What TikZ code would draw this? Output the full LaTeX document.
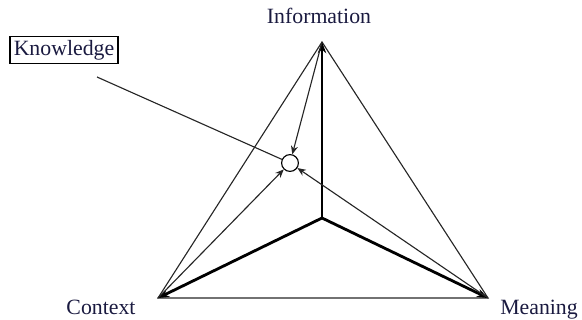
\documentclass[tikz,border=0pt]{standalone}
\usepackage{fontspec}
\setmainfont{Liberation Serif}
\usepackage{xcolor}
\usetikzlibrary{calc,arrows.meta}
\definecolor{ink}{HTML}{1A1A40}
\tikzset{lbl/.style={font=\fontsize{15.5}{17}\selectfont,text=ink,inner sep=1pt},
  edg/.style={draw=black!85,line width=0.8pt},
  spoke/.style={draw=black,line width=2pt},
  tip/.style={-{Stealth[length=6pt,width=5pt]}},
  bigtip/.style={-{Stealth[length=8pt,width=6pt]}}}

\begin{document}
\begin{tikzpicture}[x=0.025cm,y=-0.025cm]
\useasboundingbox (0,0) rectangle (582,320);
\coordinate (I) at (322,42);
\coordinate (C) at (158,298);
\coordinate (M) at (488,298);
\coordinate (O) at (322,218);
\coordinate (kt) at (97,77);
\node[circle,draw,line width=0.8pt,fill=white,minimum size=0.42cm,inner sep=0pt] (K) at (290,163) {};
\node[lbl,anchor=base] (info) at (319,24) {Information};
\node[lbl,anchor=base] (ctx) at (101,314) {Context};
\node[lbl,anchor=base] (mean) at (539,314) {Meaning};
\node[lbl,draw=black,line width=1.2pt,inner sep=2.5pt] (know) at (64,50) {Knowledge};
% outer triangle
\draw[edg] (I) -- (C) -- (M) -- cycle;
% thick spokes from the centre
\draw[spoke,bigtip] (O) -- (I);
\draw[spoke,bigtip] (O) -- (C);
\draw[spoke,bigtip] (O) -- (M);
% arrows into the knowledge point
\draw[edg,tip] (I) -- (K);
\draw[edg,tip] (C) -- (K);
\draw[edg,tip] (M) -- (K);
\draw[edg] (kt) -- (K);
\end{tikzpicture}
\end{document}
